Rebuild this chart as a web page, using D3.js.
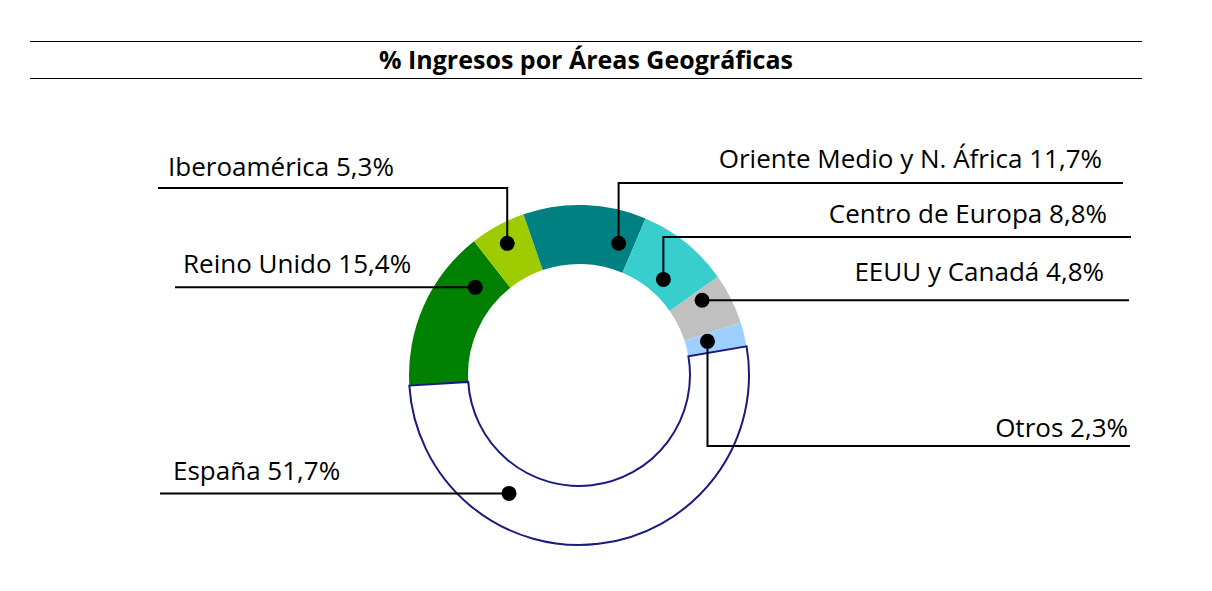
<!DOCTYPE html>
<html lang="es">

<head>
    <meta charset="UTF-8">
    <script src="https://d3js.org/d3.v7.min.js"></script>
    <style>
        body {
            margin: 0;
            background: #fff;
        }

        text {
            font-family: "Open Sans", "Noto Sans", sans-serif;
            fill: #000;
        }

        .title {
            font-weight: bold;
            font-size: 25px;
        }

        .label {
            font-size: 26px;
        }
    </style>
    <title></title>
</head>

<body>
    <div id="chart"></div>
    <script>

        const titleText = "% Ingresos por Áreas Geográficas";

        // Data, clockwise starting from España
        const categories = ["España", "Reino Unido", "Iberoamérica", "Oriente Medio y N. África",
            "Centro de Europa", "EEUU y Canadá", "Otros"];
        const shares = [51.7, 15.4, 5.3, 11.7, 8.8, 4.8, 2.3];
        const sliceColors = ["#ffffff", "#008000", "#9fcc00", "#008080", "#38cece", "#c0c0c0", "#9fcfff"];

        // Where each callout sits: t = position along the slice, f = position across the ring,
        // lineY = y of the horizontal leader (null = at the dot), end = x where leader stops
        const callouts = [
            { t: 0.70, f: 0.45, side: "left", lineY: null, end: 160, dx: 13, dy: -13 },
            { t: 0.79, f: 0.42, side: "left", lineY: null, end: 175, dx: 8, dy: -14 },
            { t: 0.50, f: 0.66, side: "left", lineY: 188, end: 158, dx: 10, dy: -12 },
            { t: 0.85, f: 0.45, side: "right", lineY: 183, end: 1123, dx: -21, dy: -15 },
            { t: 0.58, f: 0.28, side: "right", lineY: 237, end: 1131, dx: -24, dy: -14 },
            { t: 0.23, f: 0.56, side: "right", lineY: null, end: 1129, dx: -25, dy: -19 },
            { t: 0.40, f: 0.37, side: "right", lineY: 446, end: 1130, dx: -2, dy: -9 }
        ];

        const width = 1212,
            height = 591;
        const cx = 579, cy = 375;
        const innerR = 111, outerR = 170;
        const start = 80.3 * Math.PI / 180;

        const svg = d3.select("#chart")
            .append("svg")
            .attr("width", width)
            .attr("height", height);

        // Title with rules above and below
        svg.append("line")
            .attr("x1", 30).attr("x2", 1142)
            .attr("y1", 41.5).attr("y2", 41.5)
            .attr("stroke", "#000").attr("stroke-width", 1.2);
        svg.append("line")
            .attr("x1", 30).attr("x2", 1142)
            .attr("y1", 78.5).attr("y2", 78.5)
            .attr("stroke", "#000").attr("stroke-width", 1.2);
        svg.append("text")
            .attr("class", "title")
            .attr("x", 586)
            .attr("y", 69)
            .attr("text-anchor", "middle")
            .text(titleText);

        const data = categories.map((c, i) => ({ name: c, value: shares[i], color: sliceColors[i] }));

        const pie = d3.pie()
            .sort(null)
            .value(d => d.value)
            .startAngle(start)
            .endAngle(start + 2 * Math.PI);

        const arc = d3.arc()
            .innerRadius(innerR)
            .outerRadius(outerR);

        const arcs = pie(data);

        const g = svg.append("g")
            .attr("transform", `translate(${cx},${cy})`);

        // coloured slices first, España (outlined) on top
        const ordered = arcs.slice(1).concat(arcs.slice(0, 1));
        g.selectAll("path")
            .data(ordered)
            .join("path")
            .attr("d", arc)
            .attr("fill", d => d.data.color)
            .attr("stroke", d => d.index === 0 ? "#1a1a80" : "none")
            .attr("stroke-width", 2);

        const fmt = v => d3.format(".1f")(v).replace(".", ",") + "%";

        // Callouts
        arcs.forEach((a, i) => {
            const c = callouts[i];
            const ang = a.startAngle + c.t * (a.endAngle - a.startAngle);
            const r = innerR + c.f * (outerR - innerR);
            const px = cx + r * Math.sin(ang);
            const py = cy - r * Math.cos(ang);
            const ly = c.lineY === null ? py : c.lineY;

            const pts = [[px, py], [px, ly], [c.end, ly]];
            svg.append("path")
                .attr("d", d3.line()(pts))
                .attr("fill", "none")
                .attr("stroke", "#000")
                .attr("stroke-width", 2);

            svg.append("circle")
                .attr("cx", px)
                .attr("cy", py)
                .attr("r", 7.5)
                .attr("fill", "#000");

            svg.append("text")
                .attr("class", "label")
                .attr("x", c.end + c.dx)
                .attr("y", ly + c.dy)
                .attr("text-anchor", c.side === "left" ? "start" : "end")
                .text(`${a.data.name} ${fmt(a.data.value)}`);
        });

    </script>

</body>

</html>
